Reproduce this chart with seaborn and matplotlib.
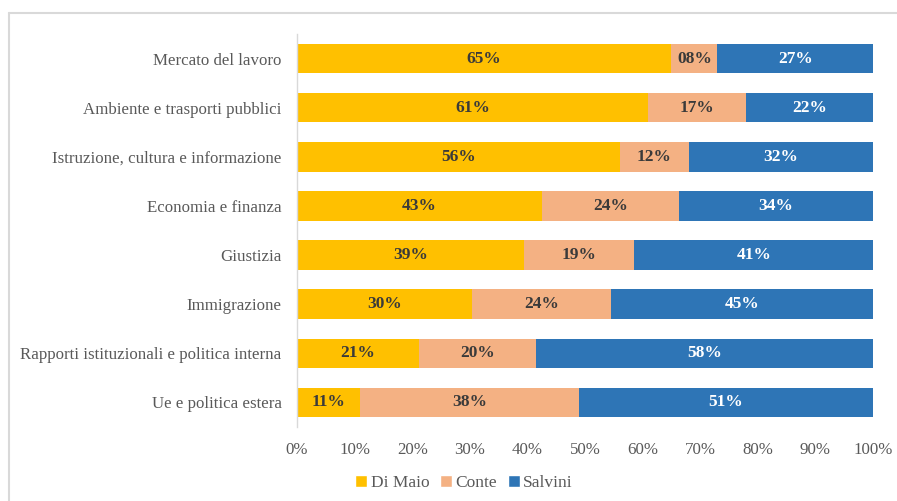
import pandas as pd
import matplotlib.pyplot as plt
import seaborn as sns
from matplotlib.patches import Patch
from matplotlib.lines import Line2D
from matplotlib.ticker import PercentFormatter

# Data (labelled percentages)
categories = [
    "Mercato del lavoro",
    "Ambiente e trasporti pubblici",
    "Istruzione, cultura e informazione",
    "Economia e finanza",
    "Giustizia",
    "Immigrazione",
    "Rapporti istituzionali e politica interna",
    "Ue e politica estera",
]
di_maio = [65, 61, 56, 43, 39, 30, 21, 11]
conte = [8, 17, 12, 24, 19, 24, 20, 38]
salvini = [27, 22, 32, 34, 41, 45, 58, 51]

series = ["Di Maio", "Conte", "Salvini"]
colors = {"Di Maio": "#FFC000", "Conte": "#F4B183", "Salvini": "#2E75B6"}

df = pd.DataFrame({"Tema": categories, "Di Maio": di_maio,
                   "Conte": conte, "Salvini": salvini})

# 100% stacked, like the spreadsheet chart
shares = df[series].div(df[series].sum(axis=1), axis=0) * 100
cum = shares.cumsum(axis=1)
df_plot = pd.concat([df[["Tema"]], cum], axis=1)

sns.set_style("white")
plt.rcParams["font.family"] = ["Liberation Serif", "DejaVu Serif"]

fig = plt.figure(figsize=(8.97, 5.01), dpi=100)
ax = fig.add_axes([297 / 897, 74 / 501, 576 / 897, 393 / 501])

# draw cumulative bars from the longest back to the shortest
for s in reversed(series):
    sns.barplot(data=df_plot, x=s, y="Tema", color=colors[s], width=0.6,
                saturation=1, linewidth=0, ax=ax, orient="h")

# segment labels
for i, cat in enumerate(categories):
    left = 0
    for s in series:
        w = shares.loc[i, s]
        tc = "white" if s == "Salvini" else "#3a3a3a"
        ax.text(left + w / 2, i, f"{df.loc[i, s]:02d}%", ha="center", va="center",
                fontsize=12.5, fontweight="bold", color=tc)
        left += w

ax.set_xlim(0, 100)
ax.set_xticks(range(0, 101, 10))
ax.xaxis.set_major_formatter(PercentFormatter(decimals=0))
ax.set_xlabel("")
ax.set_ylabel("")
for sp in ["top", "right", "bottom"]:
    ax.spines[sp].set_visible(False)
ax.spines["left"].set_color("#d9d9d9")
ax.spines["left"].set_linewidth(1)
ax.tick_params(axis="y", length=0, pad=11, labelsize=12.2, labelcolor="#595959")
ax.tick_params(axis="x", length=0, pad=11, labelsize=12.2, labelcolor="#595959")

handles = [Patch(facecolor=colors[s], label=s) for s in series]
fig.legend(handles=handles, loc="center", bbox_to_anchor=(464 / 897, 1 - 483 / 501),
           ncol=3, frameon=False, fontsize=12.5, handlelength=0.7, handleheight=0.7,
           handletextpad=0.2, columnspacing=0.6, labelcolor="#595959")

# outer chart frame (light gray)
fig.add_artist(Line2D([9 / 897, 9 / 897], [0, 1 - 13 / 501], color="#d9d9d9", lw=1.5))
fig.add_artist(Line2D([9 / 897, 1], [1 - 13 / 501, 1 - 13 / 501], color="#d9d9d9", lw=1.5))

fig.savefig("out.png", dpi=100)
